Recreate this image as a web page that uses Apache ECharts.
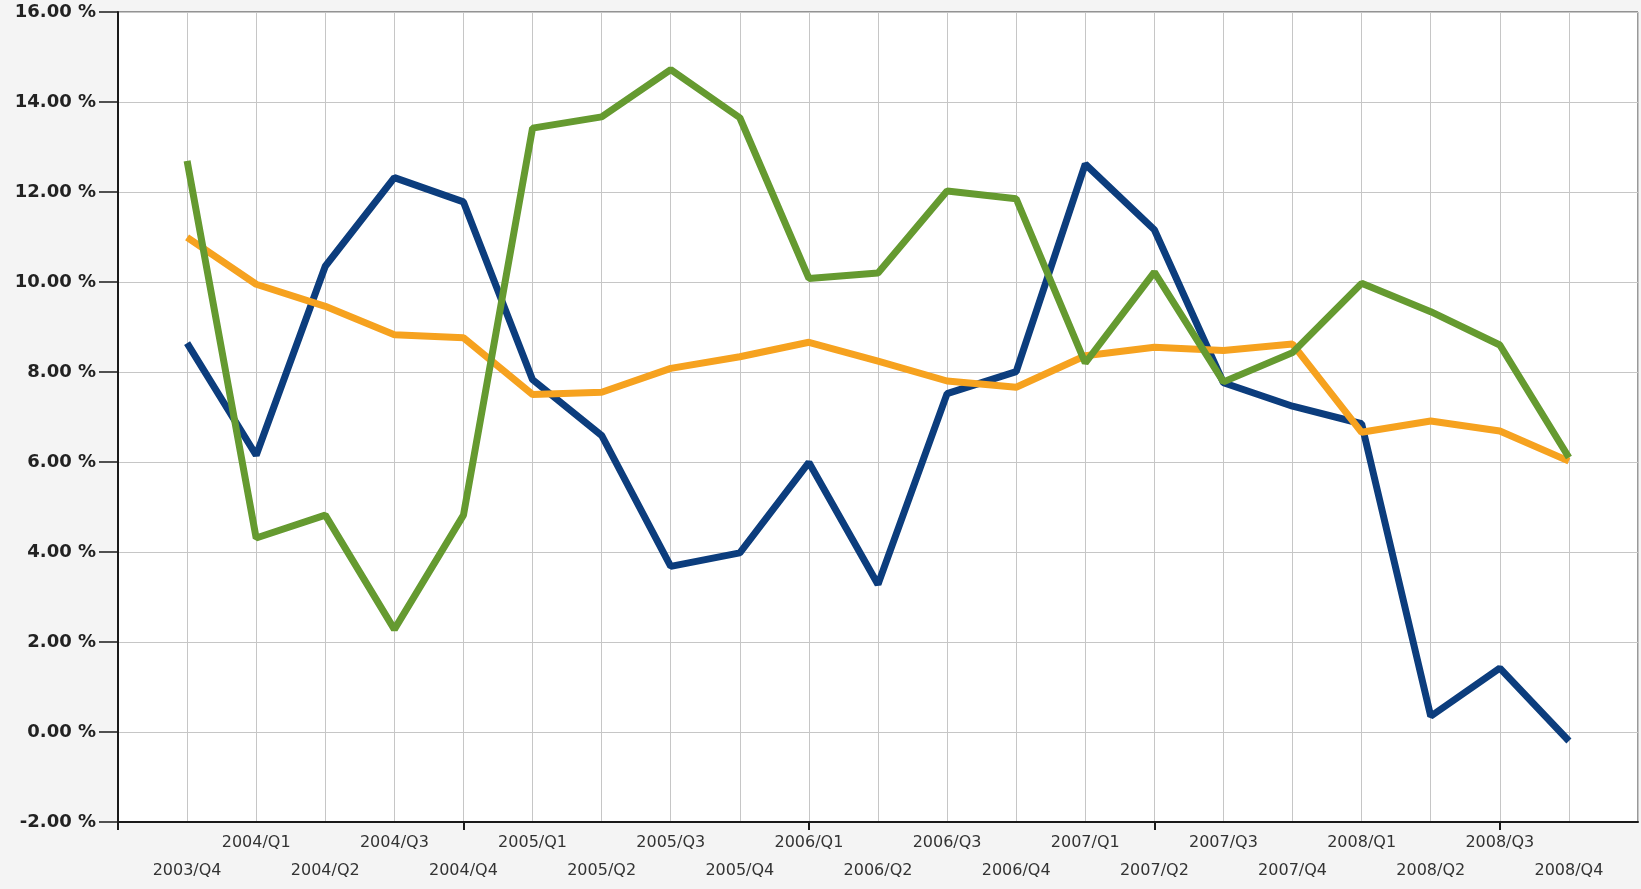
<!DOCTYPE html>
<html>
<head>
<meta charset="utf-8">
<script src="https://cdn.jsdelivr.net/npm/echarts@6/dist/echarts.min.js"></script>
<style>
html,body{margin:0;padding:0;background:#f4f4f4;}
#c{width:1641px;height:889px;}
</style>
</head>
<body>
<div id="c"></div>
<script>
var categories = ['2003/Q4','2004/Q1','2004/Q2','2004/Q3','2004/Q4','2005/Q1','2005/Q2','2005/Q3','2005/Q4','2006/Q1','2006/Q2','2006/Q3','2006/Q4','2007/Q1','2007/Q2','2007/Q3','2007/Q4','2008/Q1','2008/Q2','2008/Q3','2008/Q4'];
var blueValues = [8.64, 6.15, 10.35, 12.32, 11.78, 7.83, 6.59, 3.68, 3.98, 5.99, 3.28, 7.52, 8.01, 12.62, 11.16, 7.76, 7.24, 6.85, 0.35, 1.42, -0.2];
var greenValues = [12.69, 4.31, 4.82, 2.28, 4.82, 13.42, 13.67, 14.72, 13.65, 10.08, 10.2, 12.02, 11.85, 8.2, 10.22, 7.78, 8.43, 9.97, 9.34, 8.6, 6.1];
var orangeValues = [10.99, 9.95, 9.46, 8.83, 8.76, 7.5, 7.55, 8.08, 8.34, 8.66, 8.24, 7.8, 7.66, 8.36, 8.55, 8.48, 8.62, 6.66, 6.91, 6.69, 6.02];
var yMin = -2, yMax = 16, yStep = 2;

var axisCats = [''].concat(categories).concat(['']);
function pad(arr){ return [null].concat(arr).concat([null]); }

var chart = echarts.init(document.getElementById('c'), null, {renderer:'canvas'});
chart.setOption({
  animation:false,
  backgroundColor:'#f4f4f4',
  grid:{left:118, right:1, top:12, bottom:67, show:true, backgroundColor:'#ffffff', borderColor:'#333', borderWidth:1},
  xAxis:{
    type:'category', data:axisCats, boundaryGap:false,
    axisLine:{onZero:false, lineStyle:{color:'#1a1a1a', width:2}},
    axisTick:{show:true, length:8, interval:function(i){return i%5===0;}, lineStyle:{color:'#1a1a1a', width:2}},
    splitLine:{show:true, interval:0, lineStyle:{color:'#c6c6c6', width:1}},
    axisLabel:{
      interval:0, margin:13, hideOverlap:false,
      fontFamily:'DejaVu Sans', fontSize:16, color:'#333',
      formatter:function(v, i){
        if(v==='') return '';
        return ((i-1)%2===1) ? '{a|'+v+'}' : '{b|'+v+'}';
      },
      rich:{
        a:{fontFamily:'DejaVu Sans', fontSize:16, color:'#333', padding:[0,0,0,0]},
        b:{fontFamily:'DejaVu Sans', fontSize:16, color:'#333', padding:[28,0,0,0]}
      }
    }
  },
  yAxis:{
    type:'value', min:yMin, max:yMax, interval:yStep,
    axisLine:{show:true, lineStyle:{color:'#1a1a1a', width:2}},
    axisTick:{show:true, length:19, lineStyle:{color:'#1a1a1a', width:1.5}},
    splitLine:{show:true, lineStyle:{color:'#c6c6c6', width:1}},
    axisLabel:{margin:22, fontFamily:'DejaVu Sans', fontWeight:'bold', fontSize:18, color:'#222',
      formatter:function(v){return v.toFixed(2)+' %';}}
  },
  series:[
    {name:'blue', type:'line', data:pad(blueValues), symbol:'none', lineStyle:{color:'#0c3d7d', width:7}, itemStyle:{color:'#0c3d7d'}},
    {name:'orange', type:'line', data:pad(orangeValues), symbol:'none', lineStyle:{color:'#f6a21f', width:7}, itemStyle:{color:'#f6a21f'}},
    {name:'green', type:'line', data:pad(greenValues), symbol:'none', lineStyle:{color:'#659a30', width:7}, itemStyle:{color:'#659a30'}}
  ]
});
</script>
</body>
</html>
